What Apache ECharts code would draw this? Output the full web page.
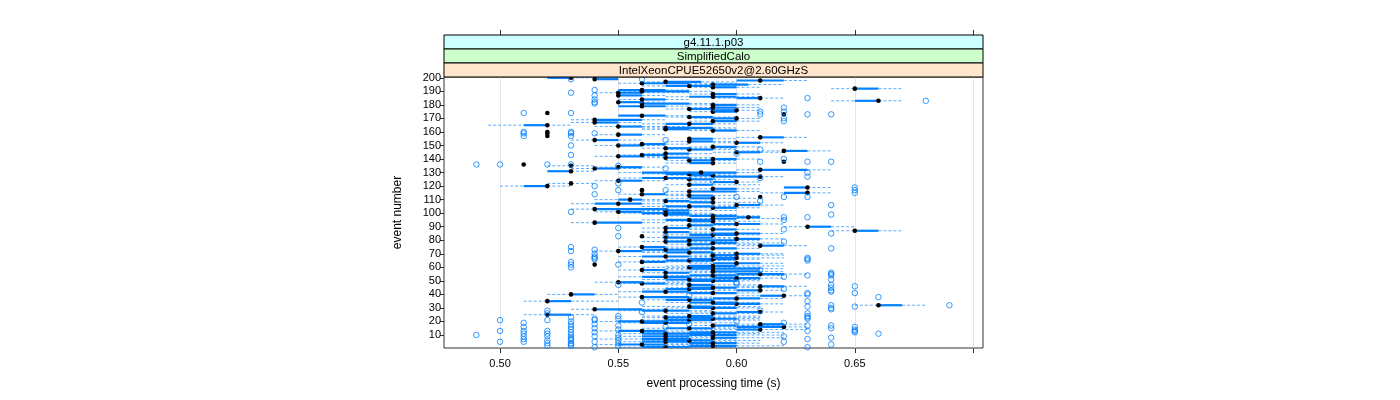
<!DOCTYPE html>
<html><head><meta charset="utf-8">
<script src="https://cdn.jsdelivr.net/npm/echarts@6/dist/echarts.min.js"></script>
<style>html,body{margin:0;padding:0;background:#fff}#c{width:1400px;height:400px}</style>
</head><body><div id="c"></div>
<script>
// ---- data (event processing time in seconds, events 1..200) ----
const stripLabels = ['g4.11.1.p03', 'SimplifiedCalo', 'IntelXeonCPUE52650v2@2.60GHzS'];
const xTicks = [0.50, 0.55, 0.60, 0.65, 0.70];
const xTickLabels = [0.50, 0.55, 0.60, 0.65];
const yTicks = [10,20,30,40,50,60,70,80,90,100,110,120,130,140,150,160,170,180,190,200];
const xTitle = 'event processing time (s)';
const yTitle = 'event number';

const whiskerLow = [
0.55,0.56,0.54,0.57,0.55,0.56,0.54,0.57,0.55,0.57,
0.55,0.56,0.54,0.58,0.56,0.59,0.58,0.60,0.55,0.54,
0.56,0.57,0.56,0.56,0.51,0.57,0.58,0.55,0.53,0.57,
0.56,0.65,0.58,0.57,0.51,0.56,0.58,0.55,0.60,0.52,
0.57,0.55,0.59,0.56,0.57,0.60,0.57,0.55,0.54,0.57,
0.56,0.58,0.55,0.57,0.59,0.56,0.58,0.55,0.57,0.56,
0.57,0.54,0.58,0.55,0.56,0.57,0.58,0.55,0.58,0.59,
0.56,0.54,0.56,0.57,0.55,0.60,0.57,0.58,0.56,0.57,
0.59,0.56,0.56,0.57,0.58,0.56,0.64,0.58,0.56,0.62,
0.57,0.58,0.53,0.57,0.56,0.58,0.60,0.57,0.56,0.55,
0.54,0.56,0.53,0.58,0.56,0.59,0.53,0.57,0.56,0.54,
0.57,0.61,0.57,0.55,0.61,0.57,0.56,0.58,0.62,0.50,
0.57,0.52,0.58,0.54,0.57,0.55,0.58,0.57,0.56,0.55,
0.52,0.60,0.53,0.54,0.52,0.51,0.57,0.62,0.57,0.58,
0.56,0.54,0.55,0.56,0.59,0.60,0.57,0.56,0.58,0.54,
0.55,0.59,0.57,0.53,0.58,0.60,0.52,0.54,0.52,0.52,
0.58,0.56,0.56,0.54,0.495,0.56,0.53,0.58,0.53,0.58,
0.57,0.55,0.62,0.52,0.58,0.59,0.57,0.58,0.55,0.58,
0.56,0.55,0.64,0.55,0.59,0.57,0.55,0.58,0.54,0.55,
0.55,0.64,0.58,0.56,0.58,0.55,0.56,0.60,0.54,0.52];

const quartile1 = [
0.56,0.58,0.55,0.58,0.56,0.57,0.56,0.59,0.56,0.58,
0.56,0.58,0.55,0.60,0.57,0.60,0.59,0.61,0.56,0.55,
0.57,0.58,0.57,0.58,0.52,0.59,0.60,0.56,0.54,0.58,
0.58,0.66,0.59,0.58,0.52,0.57,0.59,0.56,0.61,0.53,
0.58,0.56,0.60,0.57,0.58,0.61,0.58,0.56,0.55,0.58,
0.57,0.59,0.56,0.58,0.60,0.57,0.59,0.56,0.58,0.58,
0.58,0.54,0.59,0.56,0.57,0.58,0.59,0.56,0.59,0.60,
0.57,0.55,0.56,0.58,0.56,0.61,0.58,0.59,0.57,0.58,
0.60,0.57,0.56,0.58,0.59,0.57,0.65,0.59,0.57,0.63,
0.58,0.59,0.54,0.58,0.57,0.59,0.60,0.58,0.57,0.56,
0.55,0.57,0.54,0.59,0.57,0.60,0.54,0.58,0.57,0.55,
0.58,0.61,0.58,0.56,0.62,0.58,0.56,0.59,0.62,0.51,
0.58,0.53,0.59,0.55,0.58,0.56,0.59,0.58,0.57,0.56,
0.52,0.61,0.54,0.55,0.53,0.51,0.58,0.62,0.58,0.59,
0.57,0.55,0.56,0.57,0.60,0.62,0.58,0.57,0.59,0.55,
0.56,0.60,0.58,0.54,0.58,0.61,0.52,0.55,0.52,0.52,
0.59,0.57,0.57,0.55,0.51,0.57,0.54,0.59,0.54,0.59,
0.58,0.55,0.62,0.52,0.59,0.59,0.58,0.59,0.55,0.59,
0.56,0.55,0.65,0.56,0.60,0.58,0.55,0.59,0.55,0.56,
0.55,0.65,0.59,0.57,0.59,0.56,0.57,0.60,0.54,0.52];

const median = [
0.57,0.59,0.56,0.59,0.57,0.58,0.57,0.59,0.57,0.59,
0.57,0.59,0.56,0.61,0.58,0.62,0.59,0.61,0.57,0.56,
0.58,0.59,0.57,0.58,0.52,0.59,0.61,0.57,0.54,0.59,
0.58,0.66,0.60,0.59,0.52,0.58,0.60,0.56,0.62,0.53,
0.59,0.57,0.61,0.58,0.59,0.61,0.58,0.56,0.55,0.59,
0.58,0.60,0.57,0.59,0.61,0.57,0.59,0.56,0.59,0.58,
0.59,0.54,0.60,0.56,0.58,0.59,0.60,0.57,0.59,0.60,
0.58,0.55,0.57,0.59,0.56,0.61,0.58,0.59,0.57,0.58,
0.60,0.57,0.56,0.59,0.60,0.57,0.65,0.59,0.57,0.63,
0.58,0.60,0.54,0.59,0.58,0.59,0.605,0.59,0.57,0.57,
0.55,0.57,0.54,0.59,0.58,0.60,0.55,0.59,0.57,0.555,
0.59,0.61,0.58,0.56,0.63,0.58,0.56,0.59,0.63,0.52,
0.58,0.53,0.60,0.55,0.58,0.57,0.61,0.59,0.58,0.585,
0.53,0.61,0.54,0.55,0.53,0.51,0.59,0.62,0.58,0.59,
0.57,0.55,0.56,0.57,0.60,0.62,0.58,0.57,0.59,0.55,
0.56,0.60,0.58,0.54,0.58,0.61,0.52,0.55,0.52,0.52,
0.59,0.57,0.57,0.55,0.52,0.58,0.54,0.59,0.54,0.60,
0.58,0.56,0.62,0.52,0.59,0.60,0.58,0.59,0.56,0.59,
0.56,0.55,0.66,0.56,0.61,0.59,0.55,0.59,0.55,0.56,
0.56,0.65,0.59,0.58,0.59,0.56,0.57,0.61,0.54,0.53];

const quartile3 = [
0.58,0.60,0.57,0.60,0.58,0.59,0.58,0.60,0.58,0.60,
0.59,0.60,0.57,0.61,0.59,0.62,0.60,0.62,0.58,0.57,
0.59,0.60,0.59,0.59,0.53,0.60,0.61,0.58,0.56,0.60,
0.59,0.67,0.61,0.60,0.53,0.59,0.61,0.58,0.62,0.54,
0.60,0.58,0.61,0.59,0.60,0.62,0.59,0.57,0.56,0.60,
0.59,0.61,0.58,0.60,0.62,0.58,0.61,0.57,0.61,0.59,
0.60,0.54,0.61,0.57,0.59,0.60,0.60,0.58,0.60,0.61,
0.59,0.56,0.58,0.60,0.57,0.62,0.59,0.60,0.58,0.60,
0.61,0.59,0.56,0.60,0.61,0.58,0.66,0.60,0.58,0.64,
0.59,0.61,0.56,0.59,0.59,0.60,0.61,0.60,0.58,0.58,
0.56,0.58,0.57,0.60,0.59,0.61,0.56,0.59,0.58,0.56,
0.59,0.61,0.59,0.57,0.63,0.60,0.56,0.60,0.63,0.52,
0.59,0.53,0.60,0.56,0.59,0.58,0.61,0.59,0.59,0.60,
0.53,0.63,0.55,0.56,0.53,0.51,0.59,0.62,0.59,0.60,
0.58,0.56,0.57,0.58,0.61,0.63,0.59,0.58,0.60,0.56,
0.57,0.61,0.59,0.55,0.59,0.62,0.52,0.56,0.52,0.52,
0.60,0.58,0.59,0.56,0.52,0.59,0.55,0.60,0.56,0.60,
0.59,0.57,0.62,0.52,0.60,0.60,0.59,0.60,0.57,0.60,
0.58,0.56,0.66,0.57,0.61,0.60,0.56,0.60,0.56,0.58,
0.57,0.66,0.60,0.59,0.605,0.58,0.585,0.62,0.55,0.53];

const whiskerHigh = [
0.60,0.62,0.59,0.61,0.60,0.61,0.60,0.62,0.59,0.62,
0.61,0.62,0.59,0.63,0.61,0.63,0.62,0.63,0.60,0.58,
0.61,0.61,0.61,0.61,0.54,0.61,0.62,0.59,0.57,0.61,
0.61,0.68,0.62,0.61,0.55,0.60,0.62,0.59,0.63,0.55,
0.61,0.59,0.62,0.60,0.62,0.63,0.61,0.58,0.58,0.61,
0.61,0.62,0.60,0.62,0.63,0.60,0.62,0.59,0.62,0.61,
0.62,0.54,0.62,0.59,0.60,0.61,0.62,0.60,0.62,0.62,
0.60,0.57,0.59,0.61,0.59,0.63,0.61,0.62,0.60,0.61,
0.62,0.60,0.56,0.61,0.62,0.59,0.67,0.61,0.59,0.65,
0.60,0.62,0.57,0.61,0.60,0.62,0.61,0.61,0.60,0.59,
0.58,0.60,0.58,0.61,0.60,0.62,0.57,0.61,0.59,0.57,
0.61,0.61,0.60,0.58,0.64,0.61,0.56,0.61,0.64,0.53,
0.61,0.54,0.61,0.57,0.60,0.59,0.62,0.60,0.60,0.61,
0.54,0.64,0.56,0.57,0.54,0.51,0.60,0.62,0.60,0.61,
0.59,0.57,0.58,0.59,0.62,0.64,0.60,0.60,0.61,0.57,
0.58,0.62,0.60,0.56,0.60,0.63,0.52,0.57,0.52,0.52,
0.61,0.60,0.60,0.58,0.53,0.60,0.56,0.61,0.57,0.61,
0.60,0.58,0.62,0.52,0.60,0.61,0.60,0.61,0.58,0.61,
0.59,0.57,0.67,0.58,0.62,0.61,0.57,0.61,0.58,0.59,
0.58,0.67,0.61,0.60,0.62,0.60,0.60,0.63,0.55,0.55];

// outliers: [event number, time (s)]
const outliers = [
[1,0.54],[1,0.63],[2,0.52],[2,0.53],[2,0.55],[3,0.53],[3,0.64],[4,0.52],[4,0.53],[4,0.55],
[5,0.50],[5,0.51],[5,0.54],[5,0.62],[6,0.52],[6,0.53],[6,0.55],[7,0.51],[7,0.53],[7,0.63],
[8,0.53],[8,0.55],[8,0.64],[9,0.51],[9,0.52],[9,0.54],[9,0.62],[10,0.49],[10,0.53],[10,0.55],
[11,0.51],[11,0.52],[11,0.66],[12,0.53],[12,0.54],[12,0.65],[13,0.50],[13,0.51],[13,0.52],[13,0.63],[13,0.65],
[14,0.53],[14,0.55],[14,0.65],[15,0.54],[15,0.64],[16,0.51],[16,0.53],[16,0.57],[16,0.65],
[17,0.55],[17,0.63],[17,0.64],[18,0.53],[18,0.54],[18,0.58],[19,0.51],[19,0.62],[20,0.53],[20,0.60],
[21,0.50],[21,0.52],[21,0.54],[22,0.54],[22,0.55],[22,0.63],[23,0.53],[23,0.63],[24,0.55],[24,0.63],
[26,0.52],[26,0.63],[27,0.56],[28,0.52],[28,0.61],[29,0.64],[30,0.64],[31,0.63],[31,0.65],
[32,0.64],[32,0.69],[34,0.56],[35,0.63],[38,0.66],[39,0.58],[40,0.63],[41,0.63],[41,0.65],
[42,0.64],[43,0.64],[44,0.62],[45,0.64],[46,0.65],[47,0.55],[47,0.64],[48,0.60],[49,0.60],
[51,0.64],[53,0.62],[54,0.63],[54,0.64],[55,0.64],[56,0.64],[58,0.61],[60,0.53],[62,0.53],[62,0.55],
[64,0.53],[65,0.63],[66,0.54],[66,0.63],[67,0.54],[67,0.63],[68,0.54],[70,0.54],[72,0.53],[73,0.54],
[74,0.64],[75,0.53],[79,0.62],[83,0.55],[83,0.57],[85,0.64],[88,0.62],[89,0.55],[95,0.62],
[97,0.62],[97,0.63],[99,0.64],[101,0.53],[104,0.57],[106,0.64],[109,0.61],[112,0.60],[112,0.62],[112,0.63],
[114,0.54],[115,0.65],[117,0.55],[117,0.57],[117,0.65],[119,0.65],[120,0.54],[122,0.55],[124,0.59],
[126,0.61],[127,0.63],[130,0.63],[133,0.57],[135,0.55],[136,0.49],[136,0.50],[136,0.52],[136,0.53],
[138,0.61],[138,0.63],[138,0.64],[140,0.62],[143,0.53],[144,0.60],[147,0.61],[150,0.53],[154,0.57],
[157,0.51],[157,0.53],[159,0.51],[159,0.53],[159,0.54],[160,0.51],[160,0.53],[168,0.62],[170,0.62],
[173,0.61],[173,0.63],[173,0.64],[174,0.51],[174,0.53],[175,0.61],[175,0.62],[178,0.62],
[181,0.54],[182,0.54],[183,0.68],[184,0.54],[185,0.63],[187,0.54],[189,0.53],[191,0.54],
[199,0.53],[199,0.56]];

// ---- build ----
const boxRows = median.map((m, i) => [i + 1, whiskerLow[i], quartile1[i], m, quartile3[i], whiskerHigh[i]]);
const outlierPoints = outliers.map(o => [o[1], o[0]]);

const BLUE = '#0080ff';
const FONT = '"Liberation Sans", Arial, Helvetica, sans-serif';
const G = {left: 444, top: 77, width: 539, height: 271};
const X_MIN = 0.4763, X_MAX = 0.7042;
const stripColors = ['#ccffff', '#ccffcc', '#ffe5cc'];
const stripH = 14;

const chart = echarts.init(document.getElementById('c'), null, {renderer: 'canvas'});

const graphics = [];
stripLabels.forEach((t, i) => {
  const top = G.top - (3 - i) * stripH;
  graphics.push({
    type: 'rect', x: G.left, y: top,
    shape: {x: 0, y: 0, width: G.width, height: stripH},
    style: {fill: stripColors[i], stroke: '#000', lineWidth: 1},
    z: 10
  });
  graphics.push({
    type: 'text', x: G.left + G.width / 2, y: top + stripH / 2 + 0.5,
    style: {text: t, font: '11.5px ' + FONT, fill: '#000', align: 'center', verticalAlign: 'middle'},
    z: 11
  });
});
graphics.push({
  type: 'text', x: G.left + G.width / 2, y: 384,
  style: {text: xTitle, font: '12px ' + FONT, fill: '#000', align: 'center', verticalAlign: 'middle'}
});
graphics.push({
  type: 'text', rotation: Math.PI / 2, x: 398, y: G.top + G.height / 2,
  style: {text: yTitle, font: '12px ' + FONT, fill: '#000', align: 'center', verticalAlign: 'middle'}
});

const option = {
  animation: false,
  backgroundColor: '#fff',
  grid: {left: G.left, top: G.top, width: G.width, height: G.height, show: true, borderColor: '#333', borderWidth: 1, backgroundColor: 'transparent', containLabel: false},
  xAxis: [{
    type: 'value', min: X_MIN, max: X_MAX,
    axisLine: {show: false},
    axisTick: {show: true, length: 5, customValues: xTicks, lineStyle: {color: '#333'}},
    axisLabel: {show: true, customValues: xTickLabels, margin: 10, fontSize: 11, fontFamily: FONT, color: '#000', formatter: v => v.toFixed(2)},
    splitLine: {show: true, lineStyle: {color: '#e6e6e6', width: 1}}
  }, {
    type: 'value', position: 'top', offset: 42, min: X_MIN, max: X_MAX,
    axisLine: {show: false},
    axisTick: {show: true, length: 5, customValues: xTicks, lineStyle: {color: '#333'}},
    axisLabel: {show: false},
    splitLine: {show: false}
  }],
  yAxis: {
    type: 'value', min: 0.4, max: 200.6,
    axisLine: {show: false},
    axisTick: {show: true, length: 4, customValues: yTicks, lineStyle: {color: '#333'}},
    axisLabel: {show: true, customValues: yTicks, margin: 3, fontSize: 11, fontFamily: FONT, color: '#000'},
    splitLine: {show: false}
  },
  graphic: graphics,
  series: [{
    type: 'custom',
    data: boxRows,
    encode: {x: [1, 2, 3, 4, 5], y: 0},
    clip: true,
    renderItem: function (params, api) {
      const ev = api.value(0);
      const pLo = api.coord([api.value(1), ev]);
      const pQ1 = api.coord([api.value(2), ev]);
      const pMd = api.coord([api.value(3), ev]);
      const pQ3 = api.coord([api.value(4), ev]);
      const pHi = api.coord([api.value(5), ev]);
      const y = pMd[1];
      const dash = {stroke: BLUE, lineWidth: 1, lineDash: [3, 2], opacity: 0.65};
      const kids = [];
      if (pQ1[0] > pLo[0]) kids.push({type: 'line', shape: {x1: pLo[0], y1: y, x2: pQ1[0], y2: y}, style: dash});
      if (pHi[0] > pQ3[0]) kids.push({type: 'line', shape: {x1: pQ3[0], y1: y, x2: pHi[0], y2: y}, style: dash});
      if (pQ3[0] > pQ1[0]) kids.push({type: 'rect', shape: {x: pQ1[0], y: y - 1.1, width: pQ3[0] - pQ1[0], height: 2.2}, style: {fill: BLUE}});
      kids.push({type: 'circle', shape: {cx: pMd[0], cy: y, r: 2.3}, style: {fill: '#000'}});
      return {type: 'group', children: kids};
    },
    z: 2
  }, {
    type: 'scatter',
    data: outlierPoints,
    symbol: 'circle', symbolSize: 5.5,
    itemStyle: {color: 'transparent', borderColor: BLUE, borderWidth: 1},
    z: 3
  }]
};
chart.setOption(option);
</script></body></html>
